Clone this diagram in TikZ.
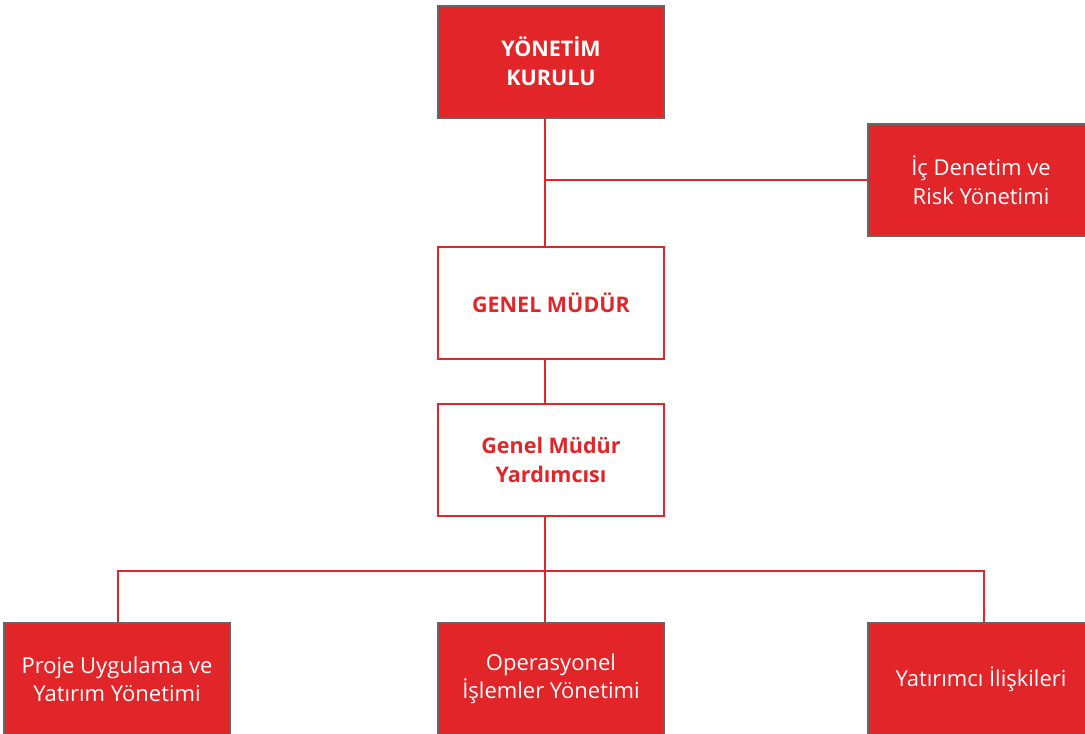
\documentclass[tikz,border=0pt]{standalone}
\usepackage{fontspec}
\setmainfont{Open Sans}
\usetikzlibrary{positioning}
\definecolor{orgred}{HTML}{E22528}
\definecolor{orggray}{HTML}{656565}
\tikzset{
  unit/.style={
    rectangle,
    minimum width=226pt,
    minimum height=112pt,
    inner sep=0pt,
    align=center,
    line width=2pt,
  },
  redbox/.style={
    unit,
    fill=orgred, draw=orggray,
    text=white,
    font=\fontsize{22}{28.5}\selectfont,
  },
  headbox/.style={
    redbox,
    font=\fontsize{21.5}{29}\selectfont\bfseries,
  },
  whitebox/.style={
    unit,
    fill=white, draw=orgred,
    text=orgred,
    font=\fontsize{21.5}{29}\selectfont\bfseries,
  },
  link/.style={
    draw=orgred, line width=2pt
  }
}

\begin{document}
\begin{tikzpicture}[x=1pt, y=-1pt]
  \clip (0,0) rectangle (1085,734);
  \fill[white] (0,0) rectangle (1085,734);

  \node[headbox] (board) at (551,61.5) {YÖNETİM\\KURULU};
  \node[redbox] (audit) at (981,180) {İç Denetim ve\\Risk Yönetimi};
  \node[whitebox] (gm) at (551,303) {GENEL MÜDÜR};
  \node[whitebox] (gmy) at (551,460) {Genel Müdür\\Yardımcısı};
  \node[redbox] (proje) at (117,679) {Proje Uygulama ve\\Yatırım Yönetimi};
  \node[redbox] (ops) at (551,679) {Operasyonel\\İşlemler Yönetimi};
  \node[redbox] (investor) at (981,679) {Yatırımcı İlişkileri};

  % spine
  \coordinate (split) at (545,571);
  \draw[link] ([xshift=-6pt]board.south) -- ([xshift=-6pt]gm.north);
  \draw[link] (545,180) -- (audit.west);
  \draw[link] ([xshift=-6pt]gm.south) -- ([xshift=-6pt]gmy.north);
  \draw[link] ([xshift=-6pt]gmy.south) -- (split);
  \draw[link] ([xshift=1pt]proje.north) |- (split) -| ([xshift=3pt]investor.north);
  \draw[link] (split) -- ([xshift=-6pt]ops.north);
\end{tikzpicture}
\end{document}
